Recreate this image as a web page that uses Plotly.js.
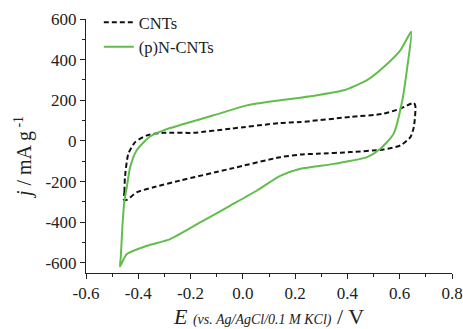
<!DOCTYPE html>
<html><head><meta charset="utf-8">
<script src="https://cdn.plot.ly/plotly-3.0.1.min.js"></script>
<style>body{margin:0;padding:0;background:#fff}#chart{width:463px;height:329px}</style>
</head><body><div id="chart"></div>
<script>
const cntsE = [-0.455,-0.453,-0.451,-0.438,-0.412,-0.367,-0.304,-0.189,-0.048,0.143,0.220,0.411,0.539,0.603,0.654,0.660,0.654,0.641,0.603,0.539,0.411,0.284,0.220,0.143,-0.048,-0.240,-0.342,-0.406,-0.444,-0.455];
const cntsJ = [-290,-250,-179,-63,-6,27,40,40,60,88,93,118,134,159,187,170,68,19,-22,-42,-55,-63,-67,-80,-137,-195,-228,-253,-290,-290];
const ncntsE = [-0.470,-0.467,-0.461,-0.453,-0.444,-0.431,-0.406,-0.355,-0.291,-0.230,-0.112,0.016,0.143,0.220,0.284,0.386,0.475,0.539,0.603,0.644,0.629,0.610,0.577,0.526,0.475,0.348,0.220,0.143,0.054,-0.048,-0.163,-0.278,-0.367,-0.444,-0.470];
const ncntsJ = [-618,-574,-426,-294,-228,-129,-46,22,58,82,126,175,200,213,225,249,299,364,447,537,364,200,36,-39,-80,-113,-137,-172,-244,-318,-401,-483,-516,-557,-618];
const seriesNames = ["CNTs","(p)N-CNTs"];
const xTickVals = [-0.6,-0.4,-0.2,0,0.2,0.4,0.6,0.8];
const xTickText = ["-0.6","-0.4","-0.2","0.0","0.2","0.4","0.6","0.8"];
const yTickVals = [-600,-400,-200,0,200,400,600];
const yTickText = ["-600","-400","-200","0","200","400","600"];

const font = "Liberation Serif, Times New Roman, serif";
const traces = [
  {x: cntsE, y: cntsJ, name: seriesNames[0], mode: "lines",
   line: {color: "#111", width: 2, dash: "5px,3px", shape: "spline", smoothing: 0.6}},
  {x: ncntsE, y: ncntsJ, name: seriesNames[1], mode: "lines",
   line: {color: "#62bd4c", width: 2, shape: "spline", smoothing: 0.6}}
];
const axisCommon = {
  showgrid: false, zeroline: false, showline: true, linecolor: "#222", linewidth: 1,
  ticks: "outside", ticklen: 5, tickwidth: 1, tickcolor: "#222",
  tickfont: {family: font, size: 17, color: "#222"}
};
const layout = {
  width: 463, height: 329,
  margin: {l: 86, r: 11, t: 19, b: 56, autoexpand: false},
  paper_bgcolor: "#fff", plot_bgcolor: "#fff",
  showlegend: true,
  legend: {x: 0.035, y: 1.055, xanchor: "left", yanchor: "top", bgcolor: "rgba(0,0,0,0)",
           font: {family: font, size: 16.5, color: "#222"}, tracegroupgap: 0, itemwidth: 30},
  xaxis: Object.assign({}, axisCommon, {
    range: [-0.6, 0.8], tickvals: xTickVals, ticktext: xTickText,
    minor: {dtick: 0.1, ticks: "outside", ticklen: 3, tickcolor: "#222"},
    title: {text: "<i>E</i> <span style='font-size:14px'><i>(vs. Ag/AgCl/0.1 M KCl)</i></span> / V",
            font: {family: font, size: 22, color: "#222"}, standoff: 6}
  }),
  yaxis: Object.assign({}, axisCommon, {
    range: [-650, 600], tickvals: yTickVals, ticktext: yTickText,
    minor: {dtick: 100, ticks: "outside", ticklen: 3, tickcolor: "#222"},
    title: {text: "<i>j</i> / mA g<sup> -1</sup>&nbsp;&nbsp;&nbsp;&nbsp;",
            font: {family: font, size: 20, color: "#222"}, standoff: 8}
  })
};
Plotly.newPlot("chart", traces, layout, {displayModeBar: false, staticPlot: true});
</script></body></html>
